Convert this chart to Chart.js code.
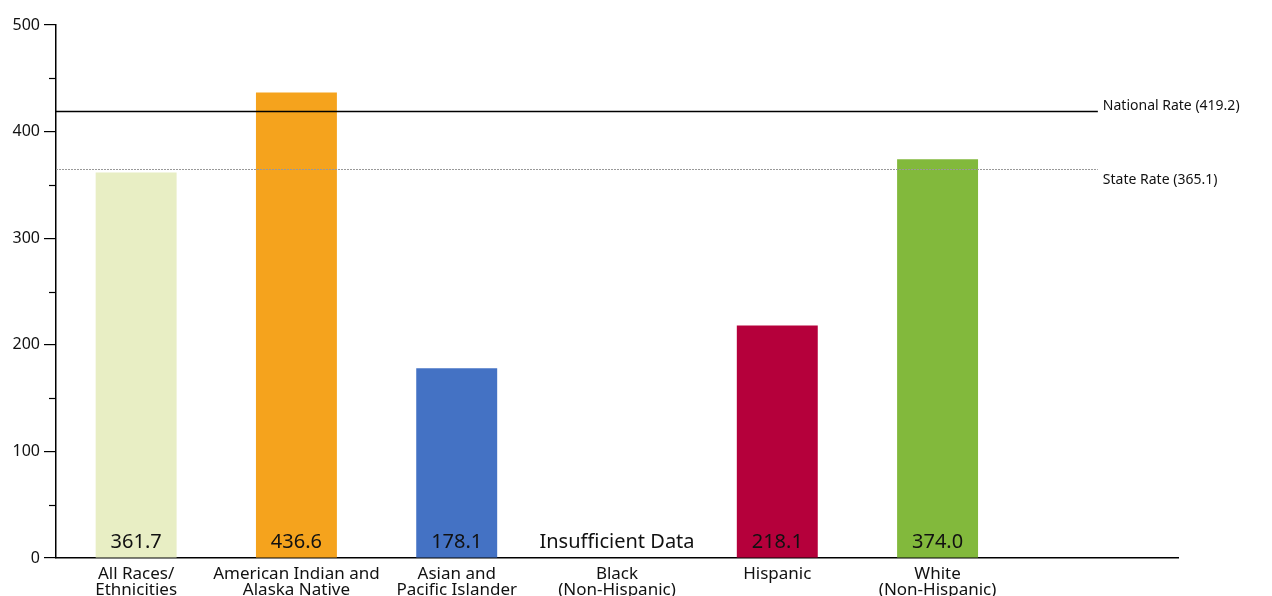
<!DOCTYPE html>
<html>
<head>
<meta charset="utf-8">
<script src="https://cdn.jsdelivr.net/npm/chart.js@4.4.1/dist/chart.umd.min.js"></script>
<style>
  html, body { margin: 0; padding: 0; background: #fff; }
  #wrap { width: 1272px; height: 596px; }
</style>
</head>
<body>
<div id="wrap"><canvas id="bar"></canvas></div>
<script>
// chart data
let categories = [
    ['All Races/', 'Ethnicities'],
    ['American Indian and', 'Alaska Native'],
    ['Asian and', 'Pacific Islander'],
    ['Black', '(Non-Hispanic)'],
    'Hispanic',
    ['White', '(Non-Hispanic)'],
    ''
];
let rates = [361.7, 436.6, 178.1, null, 218.1, 374.0, null];
let barColors = ['#E8EEC4', '#F5A31D', '#4472C4', '#FFFFFF', '#B5003B', '#82B93C', '#FFFFFF'];
let yTicks = [0, 100, 200, 300, 400, 500];
let nationalRate = 419.2;
let stateRate = 365.1;

const FONT = '"Noto Sans", "Open Sans", sans-serif';

// draws minor ticks, reference lines and value labels
const extras = {
    id: 'extras',
    afterDatasetsDraw(c) {
        const ctx = c.ctx;
        const x = c.scales.x;
        const y = c.scales.y;
        const area = c.chartArea;
        ctx.save();

        // minor ticks at the 50s
        ctx.strokeStyle = '#000';
        ctx.lineWidth = 1.2;
        for (let v = 50; v < 500; v += 100) {
            const py = Math.round(y.getPixelForValue(v)) + 0.5;
            ctx.beginPath();
            ctx.moveTo(area.left - 7, py);
            ctx.lineTo(area.left, py);
            ctx.stroke();
        }

        const lineEnd = x.getPixelForValue(6);

        // national rate, solid black
        let ny = Math.round(y.getPixelForValue(nationalRate)) + 0.5;
        ctx.strokeStyle = '#000';
        ctx.lineWidth = 1.3;
        ctx.setLineDash([]);
        ctx.beginPath();
        ctx.moveTo(area.left, ny);
        ctx.lineTo(lineEnd, ny);
        ctx.stroke();

        // state rate, dotted grey
        let sy = Math.round(y.getPixelForValue(stateRate)) + 0.5;
        ctx.strokeStyle = '#999';
        ctx.lineWidth = 1;
        ctx.setLineDash([2, 1]);
        ctx.beginPath();
        ctx.moveTo(area.left, sy);
        ctx.lineTo(lineEnd, sy);
        ctx.stroke();
        ctx.setLineDash([]);

        ctx.fillStyle = '#111';
        ctx.font = '14px ' + FONT;
        ctx.textAlign = 'left';
        ctx.textBaseline = 'middle';
        ctx.fillText('National Rate (' + nationalRate.toFixed(1) + ')', lineEnd + 5, ny - 5);
        ctx.fillText('State Rate (' + stateRate.toFixed(1) + ')', lineEnd + 5, sy + 11);

        // value labels at the foot of each bar
        ctx.font = '20px ' + FONT;
        ctx.textAlign = 'center';
        ctx.textBaseline = 'alphabetic';
        for (let i = 0; i < 6; i++) {
            const px = x.getPixelForValue(i);
            const txt = rates[i] === null ? 'Insufficient Data' : rates[i].toFixed(1);
            ctx.fillText(txt, px, area.bottom - 10);
        }
        ctx.restore();
    }
};

new Chart(document.getElementById('bar').getContext('2d'), {
    type: 'bar',
    data: {
        labels: categories,
        datasets: [{
            data: rates,
            backgroundColor: barColors,
            categoryPercentage: 1,
            barPercentage: 0.505,
            borderWidth: 0
        }]
    },
    options: {
        responsive: true,
        maintainAspectRatio: false,
        animation: false,
        devicePixelRatio: 1,
        layout: { padding: { top: 25, right: 94, left: 0, bottom: 0 } },
        plugins: {
            legend: { display: false },
            tooltip: { enabled: false }
        },
        scales: {
            x: {
                grid: { display: false, drawTicks: false },
                border: { display: true, color: '#000', width: 1.5 },
                ticks: {
                    font: { family: FONT, size: 17, lineHeight: 0.95 },
                    color: '#111',
                    maxRotation: 0,
                    autoSkip: false,
                    padding: 8
                },
                afterFit(scale) { scale.height = 38; }
            },
            y: {
                min: 0,
                max: 500,
                afterBuildTicks(scale) { scale.ticks = yTicks.map(v => ({ value: v })); },
                grid: { drawOnChartArea: false, drawTicks: true, tickLength: 12, color: '#000', lineWidth: 1.2 },
                border: { display: true, color: '#000', width: 1.5 },
                ticks: {
                    font: { family: FONT, size: 16 },
                    color: '#111',
                    padding: 4
                },
                afterFit(scale) { scale.width = 56; }
            }
        }
    },
    plugins: [extras]
});
</script>
</body>
</html>
